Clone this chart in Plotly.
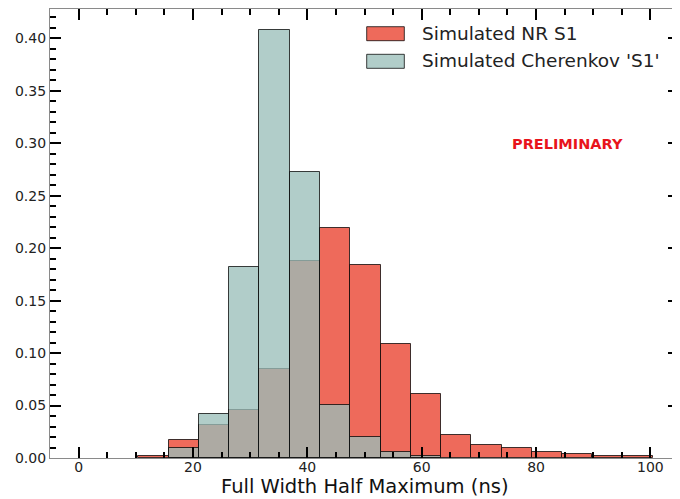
import plotly.graph_objects as go

# ---- data ----
bin_start = 10.45
bin_width = 5.294
nr_s1 = [0.002, 0.017, 0.031, 0.046, 0.085, 0.188, 0.219, 0.184, 0.109,
         0.061, 0.022, 0.012, 0.010, 0.0057, 0.0038, 0.0022, 0.0017]
cherenkov_s1 = [None, 0.010, 0.042, 0.182, 0.408, 0.273, 0.051, 0.020, 0.006,
                0.002, None, None, None, None, None, None, None]
series_names = ["Simulated NR S1", "Simulated Cherenkov 'S1'"]
x_tick_vals = [0, 20, 40, 60, 80, 100]
y_tick_vals = [0.00, 0.05, 0.10, 0.15, 0.20, 0.25, 0.30, 0.35, 0.40]
x_title = "Full Width Half Maximum (ns)"

centers = [bin_start + bin_width * (i + 0.5) for i in range(len(nr_s1))]

RED = "#EE6A5B"
TEAL = "rgba(154,190,185,0.77)"
EDGE = "rgba(0,0,0,0.75)"
FONT = "DejaVu Sans"

fig = go.Figure()
fig.add_trace(go.Bar(x=centers, y=nr_s1, width=bin_width, name=series_names[0],
                     marker=dict(color=RED, line=dict(color=EDGE, width=1)),
                     showlegend=False))
fig.add_trace(go.Bar(x=centers, y=cherenkov_s1, width=bin_width, name=series_names[1],
                     marker=dict(color=TEAL, line=dict(color=EDGE, width=1)),
                     showlegend=False))

axis_common = dict(
    showline=True, linecolor="#8a8a8a", linewidth=1.2, mirror="ticks",
    ticks="inside", tickcolor="black", tickwidth=2, ticklen=11,
    showgrid=False, zeroline=False, automargin=False,
    tickfont=dict(family=FONT, size=14, color="#222"),
)

# page has an 8px body margin: figure is sized/margined to compensate
fig.update_layout(
    width=672, height=491,
    margin=dict(l=42, r=1, t=1, b=41, autoexpand=False),
    paper_bgcolor="white", plot_bgcolor="white",
    barmode="overlay", bargap=0,
    xaxis=dict(range=[-5, 105], tickvals=x_tick_vals, ticklabelstandoff=-4,
               minor=dict(ticks="inside", dtick=5, tick0=0, ticklen=6,
                          tickwidth=1.5, tickcolor="black"),
               **axis_common),
    yaxis=dict(range=[0, 0.428], tickvals=y_tick_vals, tickformat=".2f",
               minor=dict(ticks="inside", dtick=0.01, tick0=0, ticklen=6,
                          tickwidth=1.5, tickcolor="black"),
               **axis_common),
    font=dict(family=FONT),
)

# x-axis title as annotation, box bottom at the figure's bottom edge
fig.add_annotation(xref="paper", yref="paper", x=0.5, y=-41 / 449,
                   text=x_title, showarrow=False, xanchor="center", yanchor="bottom",
                   borderpad=0,
                   font=dict(family=FONT, size=19.5, color="#111"))

# legend (drawn manually to mimic matplotlib style patches)
legend_colors = [RED, TEAL]
legend_rows = [(0.9294, 0.9606, 0.9459), (0.8679, 0.8991, 0.8842)]
for name, col, (y0, y1, yc) in zip(series_names, legend_colors, legend_rows):
    fig.add_shape(type="rect", xref="paper", yref="paper",
                  x0=0.5035, x1=0.5633, y0=y0, y1=y1,
                  fillcolor=col, line=dict(color=EDGE, width=1))
    fig.add_annotation(xref="paper", yref="paper", x=0.588, y=yc,
                       text=name, showarrow=False, xanchor="left", yanchor="middle",
                       font=dict(family=FONT, size=18.5, color="#222"))

fig.add_annotation(xref="paper", yref="paper", x=0.822, y=0.699,
                   text="<b>PRELIMINARY</b>", showarrow=False,
                   xanchor="center", yanchor="middle",
                   font=dict(family=FONT, size=14.5, color="#E8141B"))

fig.write_html("out.html")
